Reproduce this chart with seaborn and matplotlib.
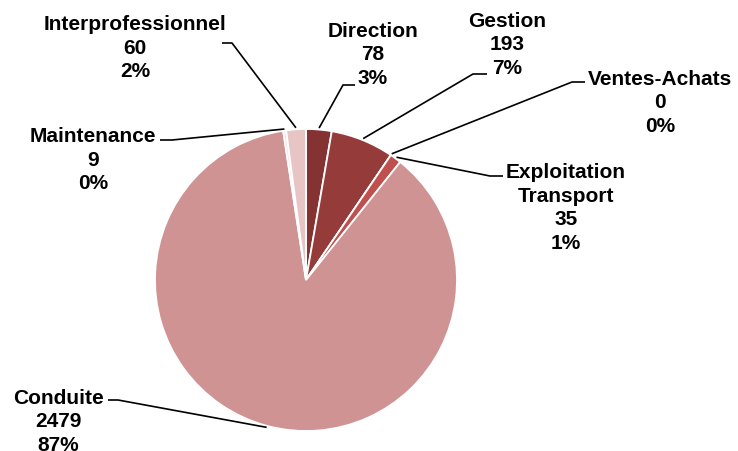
import seaborn as sns
import matplotlib.pyplot as plt
import numpy as np

sns.set_theme(style="white")
plt.rcParams['font.family'] = ['Liberation Sans Narrow', 'Liberation Sans', 'DejaVu Sans']

# data, clockwise from 12 o'clock
categories = ['Direction', 'Gestion', 'Ventes-Achats', 'Exploitation\nTransport',
              'Conduite', 'Maintenance', 'Interprofessionnel']
values = [78, 193, 0, 35, 2479, 9, 60]
colors = ['#843232', '#953c3b', '#b04543', '#c0504d', '#d09393', '#f2dcdb', '#e7c5c5']

W, H = 738, 452
fig = plt.figure(figsize=(W / 100, H / 100), dpi=100)
ax = fig.add_axes([0, 0, 1, 1])

cx, cy, R = 306, H - 281, 151
wedges, _ = ax.pie(values, colors=colors, startangle=90, counterclock=False,
                   center=(cx, cy), radius=R, frame=True,
                   wedgeprops=dict(edgecolor='white', linewidth=1.3))
ax.set_xlim(0, W)
ax.set_ylim(0, H)
ax.set_aspect('equal')
ax.axis('off')

# label layout in pixels from top-left: text centre, end of leader near text, elbow
layout = [
    ((373, 55), (355, 86), (343, 86)),
    ((507, 45), (487, 75), (473, 75)),
    ((660, 103), (585, 83), (572, 83)),
    ((566, 208), (503, 177), (490, 177)),
    ((58, 422), (108, 401), (118, 401)),
    ((93, 160), (160, 141), (172, 141)),
    ((135, 48), (222, 44), (232, 44)),
]

total = sum(values)
for w, cat, v, (txy, s, e) in zip(wedges, categories, values, layout):
    mid = np.deg2rad((w.theta1 + w.theta2) / 2)
    px = cx + R * 1.01 * np.cos(mid)
    py = cy + R * 1.01 * np.sin(mid)
    ax.plot([s[0], e[0], px], [H - s[1], H - e[1], py], color='black', lw=1.2,
            solid_capstyle='butt')
    pct = round(100 * v / total)
    ax.text(txy[0], H - txy[1], f"{cat}\n{v}\n{pct}%", ha='center', va='center',
            fontsize=15, fontweight='bold', linespacing=1.3, color='black')

fig.savefig('out.png', dpi=100)
